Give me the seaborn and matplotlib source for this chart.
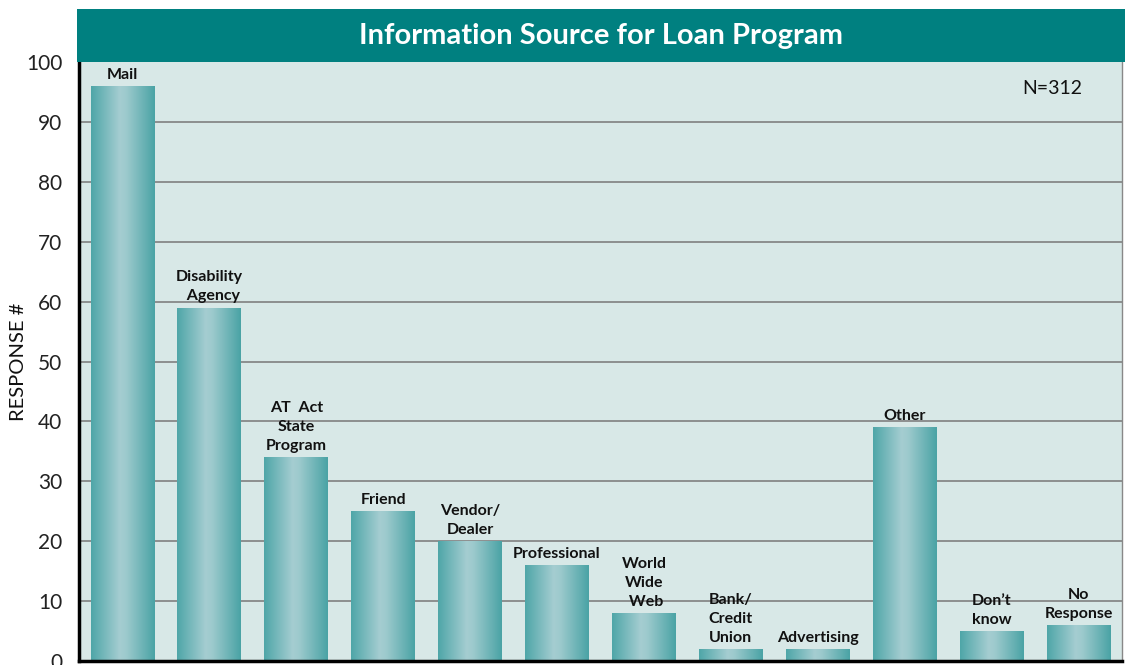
import numpy as np
import pandas as pd
import matplotlib
matplotlib.use("Agg")
import matplotlib.pyplot as plt
from matplotlib.colors import LinearSegmentedColormap
from matplotlib.patches import Rectangle
import seaborn as sns

categories = ["Mail", "Disability Agency", "AT Act State Program", "Friend",
              "Vendor/Dealer", "Professional", "World Wide Web",
              "Bank/Credit Union", "Advertising", "Other", "Don't know",
              "No Response"]
labels = ["Mail", "Disability\n  Agency", "AT  Act\nState\nProgram", "Friend",
          "Vendor/\nDealer", "Professional", "World\nWide\n Web",
          "Bank/\nCredit\nUnion", "Advertising", "Other", "Don\u2019t\nknow",
          "No\nResponse"]
values = [96, 59, 34, 25, 20, 16, 8, 2, 2, 39, 5, 6]
yticks = [0, 10, 20, 30, 40, 50, 60, 70, 80, 90, 100]
title = "Information Source for Loan Program"
note = "N=312"

sns.set_theme(style="white")
plt.rcParams['font.family'] = ['Lato', 'DejaVu Sans']

W, H = 1125, 665
fig = plt.figure(figsize=(W / 100, H / 100), dpi=100)
fig.patch.set_facecolor("white")
ax = fig.add_axes([79 / W, 1 - 661 / H, (1122 - 79) / W, (661 - 62) / H])
ax.set_facecolor("#d8e8e7")

df = pd.DataFrame({"cat": categories, "val": values})
sns.barplot(data=df, x="cat", y="val", ax=ax, width=0.735, color="#5aacae",
            saturation=1, zorder=2)

cmap = LinearSegmentedColormap.from_list(
    "bar", [(0.0, "#4ea6a8"), (0.45, "#a5cdd1"), (0.55, "#9dcacd"), (1.0, "#4aa3a5")])
grad = np.linspace(0, 1, 256).reshape(1, -1)
for p in ax.patches:
    x0, y0 = p.get_x(), p.get_y()
    w, h = p.get_width(), p.get_height()
    p.set_facecolor("none")
    p.set_edgecolor("none")
    im = ax.imshow(grad, cmap=cmap, aspect="auto", extent=[x0, x0 + w, y0, y0 + h],
                   zorder=2, interpolation="bilinear")
    im.set_clip_path(p)

ax.set_xlim(-0.5, len(categories) - 0.5)
ax.set_ylim(0, 100)
ax.set_yticks(yticks)
ax.set_yticklabels([str(t) for t in yticks], fontsize=15, color="#222222")
ax.tick_params(axis="y", length=0, pad=12)
ax.set_xticks([])
ax.set_xlabel("")
ax.set_ylabel("RESPONSE #", fontsize=14.5, color="#111111")
ax.yaxis.set_label_coords(-0.05, 0.5)

for t in yticks[1:-1]:
    ax.axhline(t, color="#8c8f8f", lw=1.4, zorder=1)

for s in ["left", "bottom"]:
    ax.spines[s].set_visible(True)
    ax.spines[s].set_color("black")
    ax.spines[s].set_linewidth(2.5)
ax.spines["right"].set_color("#888888")
ax.spines["right"].set_linewidth(1.0)
ax.spines["top"].set_visible(False)

for i, (lab, v) in enumerate(zip(labels, values)):
    ax.annotate(lab, (i, v), xytext=(0, 3), textcoords="offset points",
                ha="center", va="bottom", fontsize=11.5, fontweight="bold",
                linespacing=1.45, color="#111111")

ax.text(0.9617, 0.955, note, transform=ax.transAxes, ha="right", va="center",
        fontsize=14, color="#111111")

band = Rectangle((77 / W, 1 - 62 / H), 1 - 77 / W, (62 - 9) / H,
                 transform=fig.transFigure, facecolor="#008080", edgecolor="none",
                 zorder=0)
fig.patches.append(band)
fig.text(601 / W, 1 - 36 / H, title, ha="center", va="center",
         fontsize=21, fontweight="bold", color="white")

fig.savefig("out.png", dpi=100)
